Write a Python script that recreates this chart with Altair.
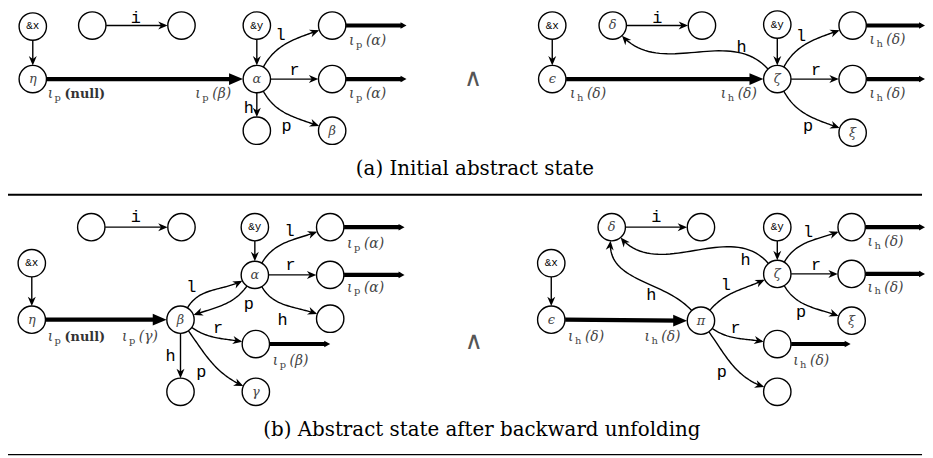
import math
import altair as alt
import pandas as pd

# ---------------- nodes (reference pixel coordinates) ----------------
node_id = ["a_x", "a_eta", "a_i1", "a_i2", "a_y", "a_alpha", "a_l", "a_r", "a_h", "a_beta",
           "A_x", "A_eps", "A_delta", "A_i2", "A_y", "A_zeta", "A_l", "A_r", "A_xi",
           "b_i1", "b_i2", "b_x", "b_eta", "b_beta", "b_y", "b_alpha", "b_l", "b_r", "b_h", "b_br", "b_bh", "b_gamma",
           "B_delta", "B_i2", "B_x", "B_eps", "B_pi", "B_y", "B_zeta", "B_l", "B_r", "B_xi", "B_pr", "B_pp"]
node_x = [33, 33, 93, 183, 259, 259, 335, 335, 259, 335,
          557, 557, 618, 708, 784, 784, 860, 860, 860,
          92, 183, 32, 32, 182, 257, 257, 333, 333, 333, 258, 182, 258,
          617, 707, 556, 556, 707, 784, 784, 859, 859, 859, 784, 784]
node_y = [17, 71, 16, 16, 16, 71, 16, 71, 124, 124,
          16, 71, 16, 16, 15, 71, 16, 71, 126,
          223, 223, 260, 318, 318, 223, 272, 223, 272, 317, 343, 392, 392,
          223, 223, 260, 318, 319, 223, 271, 223, 271, 319, 343, 392]
node_label = ["&x", "η", "", "", "&y", "α", "", "", "", "β",
              "&x", "ϵ", "δ", "", "&y", "ζ", "", "", "ξ",
              "", "", "&x", "η", "β", "&y", "α", "", "", "", "", "", "γ",
              "δ", "", "&x", "ϵ", "π", "&y", "ζ", "", "", "ξ", "", ""]

# ---------------- thin field edges (out/in angles in degrees, None = straight) ----------------
edge_src = ["a_x", "a_i1", "a_y", "a_alpha", "a_alpha", "a_alpha", "a_alpha",
            "A_x", "A_delta", "A_y", "A_zeta", "A_zeta", "A_zeta", "A_zeta",
            "b_i1", "b_x", "b_y", "b_alpha", "b_alpha", "b_alpha", "b_alpha", "b_beta", "b_beta", "b_beta", "b_beta",
            "B_delta", "B_x", "B_y", "B_zeta", "B_zeta", "B_zeta", "B_zeta", "B_pi", "B_pi", "B_pi", "B_pi"]
edge_dst = ["a_eta", "a_i2", "a_alpha", "a_l", "a_r", "a_h", "a_beta",
            "A_eps", "A_i2", "A_zeta", "A_l", "A_r", "A_xi", "A_delta",
            "b_i2", "b_eta", "b_alpha", "b_l", "b_r", "b_h", "b_beta", "b_alpha", "b_br", "b_bh", "b_gamma",
            "B_i2", "B_eps", "B_zeta", "B_l", "B_r", "B_xi", "B_delta", "B_delta", "B_zeta", "B_pr", "B_pp"]
edge_out = [None, None, None, 62, None, None, -62,
            None, None, None, 62, None, -62, 132,
            None, None, None, 60, None, -60, 235, 60, -35, None, -55,
            None, None, None, 60, None, -60, 130, 132, 50, -35, -55]
edge_in = [None, None, None, 200, None, None, 160,
           None, None, None, 200, None, 160, -48,
           None, None, None, 200, None, 160, 20, 206, 170, None, 155,
           None, None, None, 200, None, 160, -50, 265, 205, 170, 160]
edge_loose = [1, 1, 1, 1, 1, 1, 1,
              1, 1, 1, 1, 1, 1, 1,
              1, 1, 1, 1, 1, 1, 1, 1, 1, 1, 1,
              1, 1, 1, 1, 1, 1, 1, 1, 1, 1, 1]

# ---------------- thick pointer edges ----------------
thick_src = ["a_eta", "a_l", "a_r", "A_eps", "A_l", "A_r",
             "b_eta", "b_l", "b_r", "b_br", "B_eps", "B_l", "B_r", "B_pr"]
thick_dst = ["a_alpha", None, None, "A_zeta", None, None,
             "b_beta", None, None, None, "B_pi", None, None, None]
thick_end_x = [None, 410, 410, None, 933, 933,
               None, 408, 408, 333, None, 933, 933, 858]

# ---------------- field labels on edges ----------------
lab_text = ["i", "l", "r", "h", "p",
            "i", "h", "l", "r", "p",
            "i", "l", "p", "h", "r", "h", "p", "l", "r",
            "i", "h", "l", "r", "l", "h", "p", "r", "p"]
lab_x = [137, 283, 297, 251, 289,
         663, 748, 808, 823, 815,
         137, 193, 251, 285, 220, 172, 203, 292, 293,
         662, 752, 815, 823, 732, 657, 808, 742, 728]
lab_y = [13, 31, 67, 106, 124,
         13, 43, 32, 67, 124,
         218, 290, 307, 323, 332, 360, 377, 232, 267,
         218, 262, 233, 267, 288, 298, 315, 332, 377]

# ---------------- iota annotations ----------------
iota_x = [48, 197, 352, 352,
          575, 727, 877, 877,
          48, 123, 350, 350, 275,
          573, 650, 875, 875, 800]
iota_y = [86, 86, 32, 86,
          86, 86, 31, 86,
          336, 336, 240, 285, 360,
          336, 336, 238, 285, 360]
iota_sub = ["p", "p", "p", "p",
            "h", "h", "h", "h",
            "p", "p", "p", "p", "p",
            "h", "h", "h", "h", "h"]
iota_arg = ["null", "β", "α", "α",
            "δ", "δ", "δ", "δ",
            "null", "γ", "α", "α", "β",
            "δ", "δ", "δ", "δ", "δ"]

# ---------------- captions, wedges, separators ----------------
cap_text = ["(a) Initial abstract state", "(b) Abstract state after backward unfolding"]
cap_x = [479, 486]
cap_y = [169, 437]
wedge_x = [477, 478]
wedge_y = [73, 343]
sep_x1 = [7, 7]
sep_x2 = [930, 930]
sep_y = [189.7, 456.5]
sep_w = [2.2, 1.3]

R = 14.0

# ---------------- geometry ----------------
pos = {n: (x, y) for n, x, y in zip(node_id, node_x, node_y)}


def vdir(a):
    r = math.radians(a)
    return math.cos(r), -math.sin(r)


def ang(dx, dy):
    return math.degrees(math.atan2(dy, dx)) % 360


thin_rows, arrow_rows = [], []
for k, (s, d, ao, ai, lo) in enumerate(zip(edge_src, edge_dst, edge_out, edge_in, edge_loose)):
    sx, sy = pos[s]
    tx, ty = pos[d]
    if ao is None:
        L = math.hypot(tx - sx, ty - sy)
        ux, uy = (tx - sx) / L, (ty - sy) / L
        p0 = (sx + R * ux, sy + R * uy)
        tip = (tx - R * ux, ty - R * uy)
        pts = [p0, (tip[0] - 3 * ux, tip[1] - 3 * uy)]
        a = ang(ux, uy)
    else:
        ox, oy = vdir(ao)
        ix, iy = vdir(ai)
        p0 = (sx + R * ox, sy + R * oy)
        tip = (tx + R * ix, ty + R * iy)
        dd = math.hypot(tip[0] - p0[0], tip[1] - p0[1]) * 0.3915 * lo
        c1 = (p0[0] + dd * ox, p0[1] + dd * oy)
        c2 = (tip[0] + dd * ix, tip[1] + dd * iy)
        pts = []
        n = 40
        for j in range(n + 1):
            t = j / n
            b0, b1, b2, b3 = (1 - t) ** 3, 3 * (1 - t) ** 2 * t, 3 * (1 - t) * t ** 2, t ** 3
            pts.append((b0 * p0[0] + b1 * c1[0] + b2 * c2[0] + b3 * tip[0],
                        b0 * p0[1] + b1 * c1[1] + b2 * c2[1] + b3 * tip[1]))
        pts[-1] = (tip[0] + 3 * ix, tip[1] + 3 * iy)
        a = ang(-ix, -iy)
    for j, (px, py) in enumerate(pts):
        thin_rows.append({"edge": f"e{k}", "ord": j, "x": px, "y": py})
    arrow_rows.append({"x": tip[0], "y": tip[1], "angle": a})

thick_rows, big_rows, small_rows = [], [], []
for k, (s, d, ex) in enumerate(zip(thick_src, thick_dst, thick_end_x)):
    sx, sy = pos[s]
    if d is not None:
        tx, ty = pos[d]
        tip = (tx - R, ty)
        thick_rows += [{"edge": f"t{k}", "ord": 0, "x": sx + R, "y": sy},
                       {"edge": f"t{k}", "ord": 1, "x": tip[0] - 8, "y": ty}]
        big_rows.append({"x": tip[0], "y": tip[1], "angle": 0})
    else:
        thick_rows += [{"edge": f"t{k}", "ord": 0, "x": sx + R, "y": sy},
                       {"edge": f"t{k}", "ord": 1, "x": ex - 4, "y": sy}]
        small_rows.append({"x": ex, "y": sy, "angle": 0})

thin_df = pd.DataFrame(thin_rows)
arrow_df = pd.DataFrame(arrow_rows)
thick_df = pd.DataFrame(thick_rows)
big_df = pd.DataFrame(big_rows)
small_df = pd.DataFrame(small_rows)
nodes_df = pd.DataFrame({"x": node_x, "y": node_y, "label": node_label})
tt_df = nodes_df[nodes_df["label"].str.startswith("&")]
gr_df = nodes_df[(nodes_df["label"] != "") & (~nodes_df["label"].str.startswith("&"))]
lab_df = pd.DataFrame({"x": lab_x, "y": lab_y, "text": lab_text})
iota_df = pd.DataFrame({"x": iota_x, "y": iota_y, "sub": iota_sub, "arg": iota_arg})
iota_df["iota"] = "ι"
iota_df["paren"] = "(" + iota_df["arg"] + ")"
cap_df = pd.DataFrame({"x": cap_x, "y": cap_y, "text": cap_text})
wedge_df = pd.DataFrame({"x": wedge_x, "y": wedge_y, "text": ["∧", "∧"]})
sep_df = pd.DataFrame({"x": sep_x1, "x2": sep_x2, "y": sep_y, "w": sep_w})

X = alt.X("x:Q", scale=alt.Scale(domain=[8, 933], nice=False, zero=False), axis=None)
Y = alt.Y("y:Q", scale=alt.Scale(domain=[0, 458], nice=False, zero=False, reverse=True), axis=None)

seps = alt.Chart(sep_df).mark_rule(color="black").encode(
    x=X, x2="x2:Q", y=Y, strokeWidth=alt.StrokeWidth("w:Q", scale=None))
thin = alt.Chart(thin_df).mark_line(color="black", strokeWidth=1.4, interpolate="linear").encode(
    x=X, y=Y, detail="edge:N", order="ord:Q")
thick = alt.Chart(thick_df).mark_line(color="black", strokeWidth=4.2).encode(
    x=X, y=Y, detail="edge:N", order="ord:Q")
nodes = alt.Chart(nodes_df).mark_point(shape="circle", size=27.6 ** 2, fill="white", stroke="black",
                                       strokeWidth=1.4, opacity=1, filled=True).encode(x=X, y=Y)

stealth = "M0,0 L-2,-0.85 L-1.4,0 L-2,0.85 Z"
arrows = alt.Chart(arrow_df).mark_point(shape=stealth, size=90, filled=True, color="black",
                                        opacity=1, strokeWidth=0).encode(
    x=X, y=Y, angle=alt.Angle("angle:Q", scale=None))
bigs = alt.Chart(big_df).mark_point(shape="M0,0 L-2,-0.85 L-2,0.85 Z", size=196, filled=True,
                                    color="black", opacity=1, strokeWidth=0).encode(
    x=X, y=Y, angle=alt.Angle("angle:Q", scale=None))
smalls = alt.Chart(small_df).mark_point(shape="M0,0 L-2,-1.1 L-2,1.1 Z", size=36, filled=True,
                                        color="black", opacity=1, strokeWidth=0).encode(
    x=X, y=Y, angle=alt.Angle("angle:Q", scale=None))

tt_text = alt.Chart(tt_df).mark_text(font="Liberation Mono", fontSize=11, baseline="middle",
                                     align="center", color="black").encode(x=X, y=Y, text="label:N")
gr_text = alt.Chart(gr_df).mark_text(font="DejaVu Serif", fontStyle="italic", fontSize=13,
                                     baseline="middle", align="center", color="#444").encode(
    x=X, y=Y, text="label:N")
labs = alt.Chart(lab_df).mark_text(font="Liberation Mono", fontSize=17, baseline="alphabetic",
                                   align="center", color="black").encode(x=X, y=Y, text="text:N")

iota1 = alt.Chart(iota_df).mark_text(font="DejaVu Serif", fontStyle="italic", fontSize=14,
                                     align="left", baseline="middle", color="#444").encode(
    x=X, y=Y, text="iota:N")
iota2 = alt.Chart(iota_df).mark_text(font="DejaVu Serif", fontSize=10, align="left",
                                     baseline="middle", dx=7, dy=4, color="#444").encode(
    x=X, y=Y, text="sub:N")
iota3 = alt.Chart(iota_df).transform_filter(alt.datum.arg != "null").mark_text(
    font="DejaVu Serif", fontStyle="italic", fontSize=14, align="left", baseline="middle",
    dx=17, color="#444").encode(x=X, y=Y, text="paren:N")
iota4 = alt.Chart(iota_df).transform_filter(alt.datum.arg == "null").mark_text(
    font="DejaVu Serif", fontWeight="bold", fontSize=13, align="left", baseline="middle",
    dx=17, color="#333").encode(x=X, y=Y, text="paren:N")

caps = alt.Chart(cap_df).mark_text(font="DejaVu Serif", fontSize=20, align="center",
                                   baseline="alphabetic", color="black").encode(x=X, y=Y, text="text:N")
wedges = alt.Chart(wedge_df).mark_text(font="DejaVu Sans", fontSize=25, align="center",
                                       baseline="middle", dy=-3, color="#555").encode(x=X, y=Y, text="text:N")

chart = alt.layer(seps, thin, thick, nodes, arrows, bigs, smalls, tt_text, gr_text, labs,
                  iota1, iota2, iota3, iota4, caps, wedges).properties(
    width=925, height=450, autosize=alt.AutoSizeParams(type="none"), padding=0
).configure_view(stroke=None)

chart.save("out.html", embed_options={"renderer": "svg", "actions": False})
